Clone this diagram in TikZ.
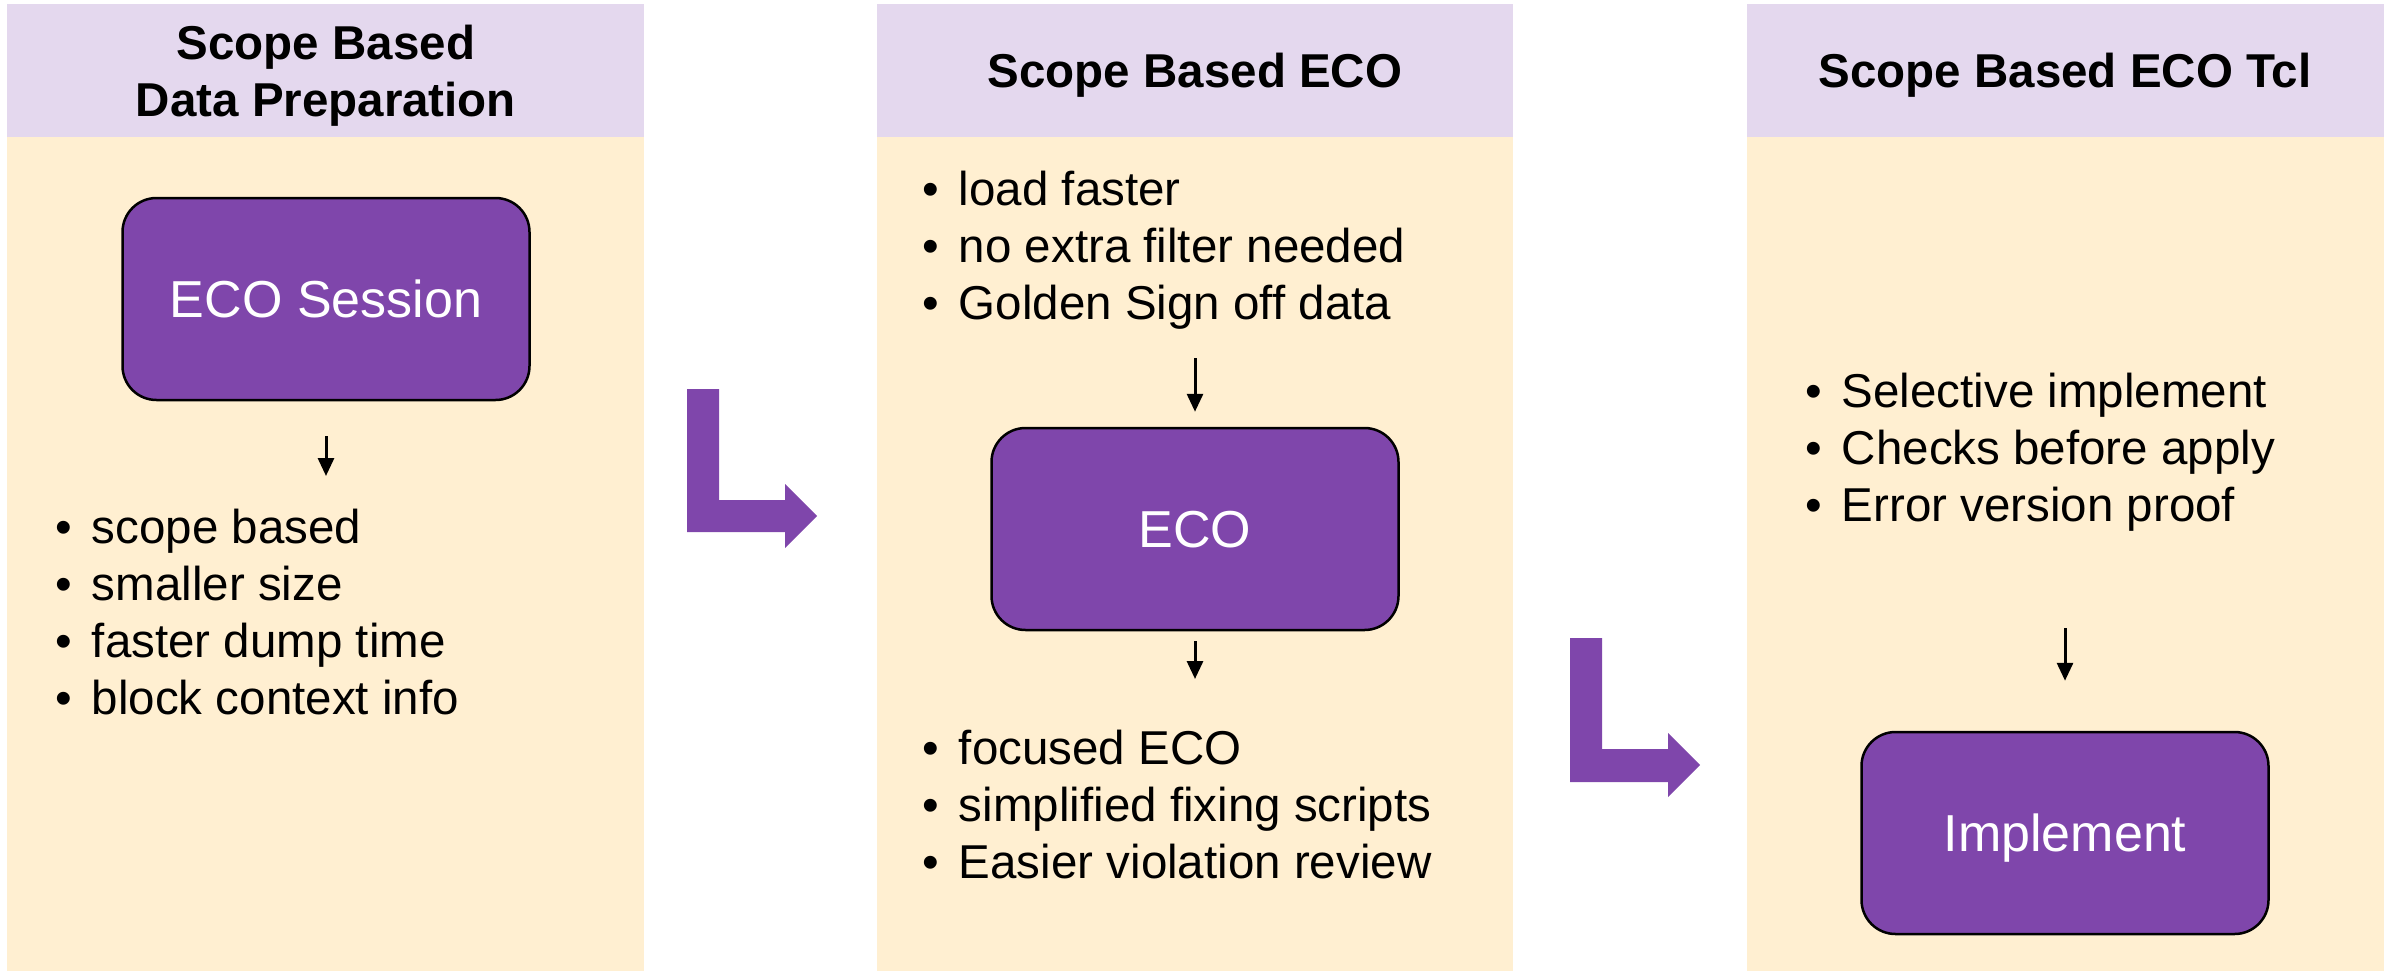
\documentclass[tikz,border=0pt]{standalone}
\usepackage{fontspec}
\setmainfont{Liberation Sans}
\usetikzlibrary{arrows.meta}
\definecolor{headfill}{HTML}{E4D8EE}
\definecolor{bodyfill}{HTML}{FFEFD1}
\definecolor{stepfill}{HTML}{7F46AB}
\newcommand\bitem[1]{\makebox[18.25pt][l]{\textbullet}#1}
\begin{document}
\begin{tikzpicture}[x=0.5pt,y=-0.5pt,
  panelbody/.style={fill=bodyfill},
  panelhead/.style={fill=headfill},
  headtext/.style={font=\fontsize{23.75}{28.5}\selectfont\bfseries, inner sep=0, anchor=base},
  bulletline/.style={font=\fontsize{23.75}{28.5}\selectfont, inner sep=0, anchor=base west},
  stepbox/.style={draw=black, line width=1.25pt, fill=stepfill, rounded corners=17pt,
    text=white, font=\fontsize{26}{30}\selectfont, minimum width=203.5pt,
    minimum height=101pt, inner sep=0, text depth=0pt},
  flow/.style={line width=1.5pt, -{Triangle[length=9pt,width=8pt]}},
  bendarrow/.style={fill=stepfill}]
\useasboundingbox (0,0) rectangle (2392,975);

% three column panels
\fill[panelbody] (7,4) rectangle (644,971);
\fill[panelhead] (7,4) rectangle (644,137);
\fill[panelbody] (877,4) rectangle (1513,971);
\fill[panelhead] (877,4) rectangle (1513,137);
\fill[panelbody] (1747,4) rectangle (2384,971);
\fill[panelhead] (1747,4) rectangle (2384,137);

% headers
\node[headtext] (h1a) at (326,59) {Scope Based};
\node[headtext] (h1b) at (326,116) {Data Preparation};
\node[headtext] (h2) at (1195,87) {Scope Based ECO};
\node[headtext] (h3) at (2065,87) {Scope Based ECO Tcl};

% column 1
\node[stepbox] (session) at (326,299) {ECO Session};
\coordinate (a1e) at (326,476);
\draw[flow, shorten <=17.5pt] (session.south) -- (a1e);
\node[bulletline] (l1a) at (55,543) {\bitem{scope based}};
\node[bulletline] (l1b) at (55,600) {\bitem{smaller size}};
\node[bulletline] (l1c) at (55,657) {\bitem{faster dump time}};
\node[bulletline] (l1d) at (55,714) {\bitem{block context info}};

% column 2
\node[bulletline] (l2a) at (922,205) {\bitem{load faster}};
\node[bulletline] (l2b) at (922,262) {\bitem{no extra filter needed}};
\node[bulletline] (l2c) at (922,319) {\bitem{Golden Sign off data}};
\node[stepbox] (eco) at (1195,529) {ECO};
\coordinate (a2s) at (1195,358);
\draw[flow, shorten >=7.5pt] (a2s) -- (eco.north);
\coordinate (a3e) at (1195,679);
\draw[flow, shorten <=5pt] (eco.south) -- (a3e);
\node[bulletline] (l2d) at (922,764) {\bitem{focused ECO}};
\node[bulletline] (l2e) at (922,821) {\bitem{simplified fixing scripts}};
\node[bulletline] (l2f) at (922,878) {\bitem{Easier violation review}};

% column 3
\node[bulletline] (l3a) at (1805,407) {\bitem{Selective implement}};
\node[bulletline] (l3b) at (1805,464) {\bitem{Checks before apply}};
\node[bulletline] (l3c) at (1805,521) {\bitem{Error version proof}};
\node[stepbox] (impl) at (2065,833) {Implement};
\coordinate (a4s) at (2065,628);
\draw[flow, shorten >=25pt] (a4s) -- (impl.north);

% bent arrows between columns
\fill[bendarrow] (687,389) -- (719,389) -- (719,500) -- (785,500) -- (785,484)
  -- (817,516) -- (785,548) -- (785,532) -- (687,532) -- cycle;
\fill[bendarrow] (1570,638) -- (1602,638) -- (1602,749) -- (1668,749) -- (1668,733)
  -- (1700,765) -- (1668,797) -- (1668,782) -- (1570,782) -- cycle;
\end{tikzpicture}
\end{document}
